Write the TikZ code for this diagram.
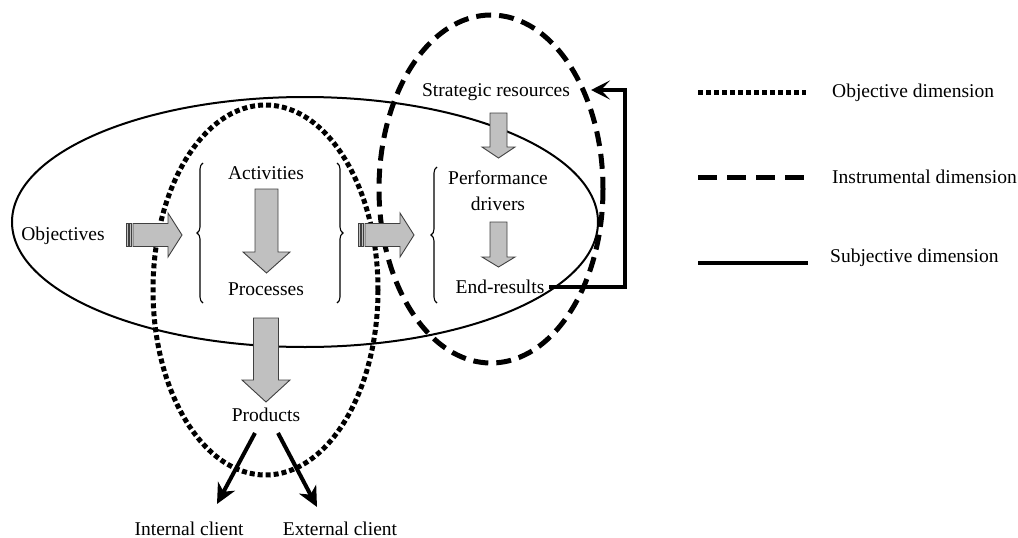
\documentclass[tikz,border=0pt]{standalone}
\usepackage{fontspec}
\setmainfont{Liberation Serif}
\usetikzlibrary{arrows.meta,decorations.pathreplacing}
\definecolor{blkgray}{RGB}{192,192,192}
\begin{document}
\begin{tikzpicture}[x=1pt,y=-1pt,
  lbl/.style={font=\fontsize{19.5}{26}\selectfont, inner sep=0pt, anchor=base},
  blk/.style={fill=blkgray, draw=black!75, line width=0.9pt, line join=miter},
  objline/.style={line width=5pt, dash pattern=on 5pt off 3pt},
  insline/.style={line width=5pt, dash pattern=on 15pt off 8pt},
  subjline/.style={line width=2pt},
  legsolid/.style={line width=4.2pt},
  brc/.style={decorate, decoration={brace, amplitude=6pt}, line width=1.1pt},
  outarrow/.style={line width=4pt, -{Stealth[length=20pt,width=19pt,inset=6pt]}},
  fbarrow/.style={line width=3.6pt, -{Stealth[length=19pt,width=19pt,inset=9pt]}},
  pics/rightblock/.style={code={
    \draw[blk] (0,-11.5) rectangle (2,11.5);
    \draw[blk] (3.5,-11.5) rectangle (5.5,11.5);
    \draw[blk] (7,-11.5) -- (42,-11.5) -- (42,-22) -- (56,0) -- (42,22)
      -- (42,11.5) -- (7,11.5) -- cycle;
  }},
  pics/downblock/.style n args={4}{code={
    \draw[blk] (-#1,0) -- (#1,0) -- (#1,#3) -- (#2,#3) -- (0,#4)
      -- (-#2,#3) -- (-#1,#3) -- cycle;
  }}
]
\useasboundingbox (0,0) rectangle (1018,538);

% the three dimensions
\draw[subjline] (305,222) ellipse [x radius=293, y radius=125];
\draw[objline] (265.5,290) ellipse [x radius=112.5, y radius=185];
\draw[insline] (491,189) ellipse [x radius=112, y radius=174];

% labels
\node[lbl] (obj)  at (63,240)  {Objectives};
\node[lbl] (act)  at (266,179) {Activities};
\node[lbl] (proc) at (266,295) {Processes};
\node[lbl] (prod) at (266,421) {Products};
\node[lbl] (intc) at (189,535) {Internal client};
\node[lbl] (extc) at (340,535) {External client};
\node[lbl] (sr)   at (496,96)  {Strategic resources};
\node[lbl, anchor=center, align=center] (pd) at (498,191) {Performance\\drivers};
\node[lbl] (er)   at (500,293) {End-results};

% braces
\draw[brc] (203,303) -- (203,163);
\draw[brc] (337,163) -- (337,303);
\draw[brc] (437,303) -- (437,167);

% block arrows
\pic at (126,235) {rightblock};
\pic at (358,235) {rightblock};
\pic at (266.5,189) {downblock={11.5}{23.5}{63}{84}};
\pic at (266,318) {downblock={12.5}{24}{62}{84}};
\pic at (498.5,113) {downblock={8.5}{16.5}{34}{45}};
\pic at (498.5,222) {downblock={8.5}{16.5}{35}{45}};

% products to clients
\coordinate (pl) at (255,433);
\coordinate (pr) at (278,433);
\coordinate (cl) at (217,504);
\coordinate (cr) at (317,507);
\draw[outarrow] (pl) -- (cl);
\draw[outarrow] (pr) -- (cr);

% feedback from end-results to strategic resources
\coordinate (erout) at (549,287);
\coordinate (fbtop) at (625,90);
\coordinate (fbend) at (591,90);
\draw[fbarrow, line join=miter] (erout) -| (fbtop) -- (fbend);

% legend
\draw[objline] (698,92) -- (806,92);
\draw[insline, dash pattern=on 19pt off 10pt] (698,177) -- (806,177);
\draw[legsolid] (698,263) -- (808,263);
\node[lbl, anchor=base west] (lg1) at (832,97)  {Objective dimension};
\node[lbl, anchor=base west] (lg2) at (832,183) {Instrumental dimension};
\node[lbl, anchor=base west] (lg3) at (830,262) {Subjective dimension};
\end{tikzpicture}
\end{document}
